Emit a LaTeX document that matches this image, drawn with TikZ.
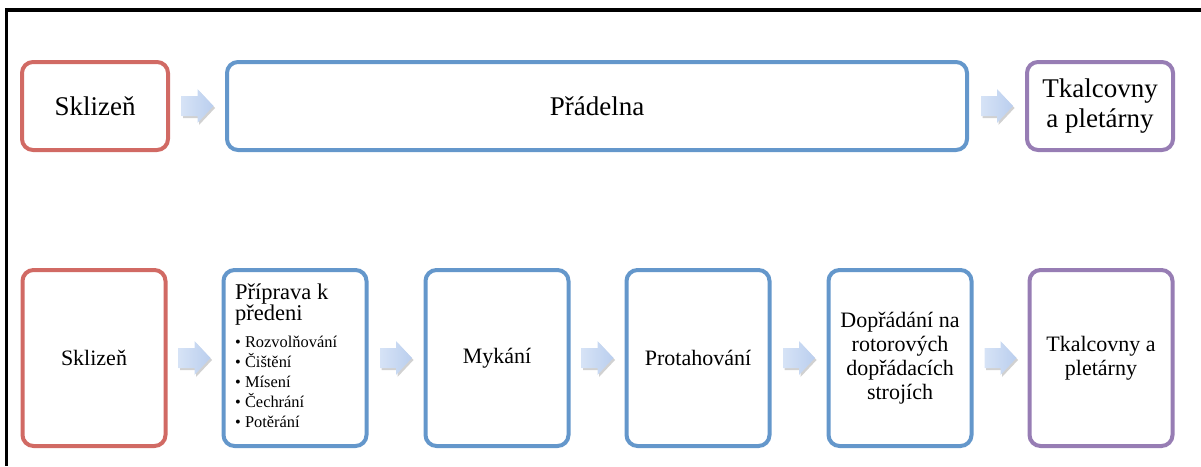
\documentclass[tikz,border=0pt]{standalone}
\usepackage{fontspec}
\setmainfont{Liberation Serif}
\usetikzlibrary{calc,shadows}
\definecolor{cred}{RGB}{209,106,100}
\definecolor{cblue}{RGB}{100,151,203}
\definecolor{cpurple}{RGB}{151,125,180}
\definecolor{arrL}{RGB}{214,227,246}
\definecolor{arrR}{RGB}{186,206,238}
\begin{document}
\begin{tikzpicture}[x=1pt,y=-1pt,
  box/.style={draw, line width=4pt, rounded corners=11pt, fill=white, inner sep=4pt, align=center},
  redbox/.style={box, draw=cred},
  bluebox/.style={box, draw=cblue},
  purplebox/.style={box, draw=cpurple},
  big/.style={font=\fontsize{27}{30}\selectfont},
  small/.style={font=\fontsize{22}{24}\selectfont},
  toprow/.style={minimum height=88pt},
  botrow/.style={minimum width=143pt, minimum height=176pt},
  arrowfill/.style={left color=arrL, right color=arrR, draw=none,
    drop shadow={shadow xshift=1.5pt, shadow yshift=-2pt, opacity=0.18, fill=black}},
  barrow/.pic={\path[arrowfill] (-16,-10) -- (0,-10) -- (0,-17) -- (16,0) -- (0,17) -- (0,10) -- (-16,10) -- cycle;}
]
\useasboundingbox (0,0) rectangle (1201,466);
\draw[line width=3.3pt] (1201,10) -- (6.7,10) -- (6.7,466);

% top row
\node[redbox,toprow,big,minimum width=146pt] (s1) at (95,106) {Sklizeň};
\node[bluebox,toprow,big,minimum width=740pt] (p1) at (597,106) {Přádelna};
\node[purplebox,toprow,big,minimum width=146pt] (t1) at (1100,106) {Tkalcovny\\a pletárny};
\pic at ($(s1.east)!0.5!(p1.west)$) {barrow};
\pic at ($(p1.east)!0.5!(t1.west)$) {barrow};

% bottom row
\node[redbox,botrow,small] (s2) at (94,358) {Sklizeň};
\node[bluebox,botrow] (b2) at (295,358) {};
\node[anchor=base west, inner sep=0pt] (b2t) at ($(b2.north west)+(13.5,31)$)
 {\parbox[t]{128pt}{\raggedright\fontsize{22.5}{21.5}\selectfont Příprava k\\předeni\par
  \vspace{7pt}\fontsize{16.4}{20}\selectfont
  \textbullet\ Rozvolňování\\
  \textbullet\ Čištění\\
  \textbullet\ Mísení\\
  \textbullet\ Čechrání\\
  \textbullet\ Potěrání}};
\node[bluebox,botrow,small] (m2) at (497,358) {Mykání};
\node[bluebox,botrow,small] (r2) at (698,358) {Protahování};
\node[bluebox,botrow,small] (d2) at (900,358) {Dopřádání na\\rotorových\\dopřádacích\\strojích};
\node[purplebox,botrow,small] (t2) at (1101,358) {Tkalcovny a\\pletárny};
\pic at ($(s2.east)!0.5!(b2.west)$) {barrow};
\pic at ($(b2.east)!0.5!(m2.west)$) {barrow};
\pic at ($(m2.east)!0.5!(r2.west)$) {barrow};
\pic at ($(r2.east)!0.5!(d2.west)$) {barrow};
\pic at ($(d2.east)!0.5!(t2.west)$) {barrow};
\end{tikzpicture}
\end{document}
